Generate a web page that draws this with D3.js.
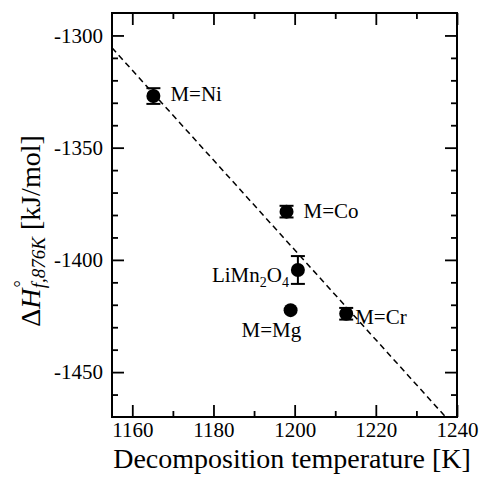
<!DOCTYPE html>
<html>
<head>
<meta charset="utf-8">
<script src="https://cdn.jsdelivr.net/npm/d3@7"></script>
<style>
  body { margin: 0; background: #fff; }
  svg { display: block; }
  svg text { font-family: "Liberation Serif", "Times New Roman", Times, "DejaVu Serif", serif !important; fill: #000; }
</style>
</head>
<body>
<div id="chart"></div>
<script>
// datos
const compounds = ["M=Ni", "M=Co", "LiMn2O4", "M=Mg", "M=Cr"];
const decompTemp = [1165.2, 1198, 1200.8, 1199, 1212.7];
const deltaH = [-1327, -1378.5, -1404.5, -1422.4, -1424];
const errH = [3.5, 2.6, 6.2, 0, 2.6];
const fitLine = [[1155, -1305.5], [1237.2, -1470]];
const xTicks = [1160, 1180, 1200, 1220, 1240];
const xMinor = [1170, 1190, 1210, 1230];
const yTicks = [-1300, -1350, -1400, -1450];
const yMinor = [-1310, -1320, -1330, -1340, -1360, -1370, -1380, -1390,
  -1410, -1420, -1430, -1440, -1460];

const width = 479;
const height = 486;
const margin = {top: 13, right: 22, bottom: 69, left: 112};
const w = width - margin.left - margin.right;
const h = height - margin.top - margin.bottom;
const serif = '"Liberation Serif", "Times New Roman", Times, serif';

let svg = d3.select("#chart").append("svg")
  .attr("width", width)
  .attr("height", height)
  .attr("font-family", serif);

let g = svg.append("g")
  .attr("transform", `translate(${margin.left}, ${margin.top})`);

let xScale = d3.scaleLinear().domain([1155, 1240]).range([0, w]);
let yScale = d3.scaleLinear().domain([-1470, -1290]).range([h, 0]);

// ejes con ticks hacia adentro, en los cuatro lados
function styleAxis(sel) {
  sel.attr("font-family", serif).attr("font-size", 21);
  sel.select(".domain").remove();
  sel.selectAll(".tick line").attr("stroke", "#000").attr("stroke-width", 1.8);
  sel.selectAll(".tick text").attr("font-family", serif).attr("font-size", 21);
}

g.append("g").attr("transform", `translate(0,${h})`)
  .call(d3.axisBottom(xScale).tickValues(xTicks).tickSize(-12).tickPadding(5).tickFormat(d3.format("d")))
  .call(styleAxis);
g.append("g").attr("transform", `translate(0,${h})`)
  .call(d3.axisBottom(xScale).tickValues(xMinor).tickSize(-6).tickFormat(""))
  .call(styleAxis);
g.append("g")
  .call(d3.axisTop(xScale).tickValues(xTicks).tickSize(-12).tickFormat(""))
  .call(styleAxis);
g.append("g")
  .call(d3.axisTop(xScale).tickValues(xMinor).tickSize(-6).tickFormat(""))
  .call(styleAxis);

g.append("g")
  .call(d3.axisLeft(yScale).tickValues(yTicks).tickSize(-12).tickPadding(9).tickFormat(d => "-" + Math.abs(d)))
  .call(styleAxis);
g.append("g")
  .call(d3.axisLeft(yScale).tickValues(yMinor).tickSize(-6).tickFormat(""))
  .call(styleAxis);
g.append("g").attr("transform", `translate(${w},0)`)
  .call(d3.axisRight(yScale).tickValues(yTicks).tickSize(-12).tickFormat(""))
  .call(styleAxis);
g.append("g").attr("transform", `translate(${w},0)`)
  .call(d3.axisRight(yScale).tickValues(yMinor).tickSize(-6).tickFormat(""))
  .call(styleAxis);

// marco
g.append("rect")
  .attr("width", w)
  .attr("height", h)
  .attr("fill", "none")
  .attr("stroke", "#000")
  .attr("stroke-width", 2);

// recta de ajuste
g.append("line")
  .attr("x1", xScale(fitLine[0][0]))
  .attr("y1", yScale(fitLine[0][1]))
  .attr("x2", xScale(fitLine[1][0]))
  .attr("y2", yScale(fitLine[1][1]))
  .attr("stroke", "#000")
  .attr("stroke-width", 1.5)
  .style("stroke-dasharray", "6,4");

// barras de error y puntos
for (let i in compounds) {
  let cx = xScale(decompTemp[i]);
  let yTop = yScale(deltaH[i] + errH[i]);
  let yBot = yScale(deltaH[i] - errH[i]);
  if (errH[i] > 0) {
    g.append("line").attr("x1", cx).attr("x2", cx).attr("y1", yTop).attr("y2", yBot)
      .attr("stroke", "#000").attr("stroke-width", 2);
    [yTop, yBot].forEach(yy => {
      g.append("line").attr("x1", cx - 7).attr("x2", cx + 7).attr("y1", yy).attr("y2", yy)
        .attr("stroke", "#000").attr("stroke-width", 2);
    });
  }
  g.append("circle")
    .attr("cx", cx)
    .attr("cy", yScale(deltaH[i]))
    .attr("r", 7)
    .attr("fill", "#000");
}

// etiquetas de los puntos (desplazamientos en px)
const labelPos = {
  "M=Ni": {dx: 17, dy: 5, anchor: "start"},
  "M=Co": {dx: 17, dy: 6.5, anchor: "start"},
  "LiMn2O4": {dx: -9, dy: 12, anchor: "end"},
  "M=Mg": {dx: -49, dy: 27, anchor: "start"},
  "M=Cr": {dx: 9, dy: 10, anchor: "start"}
};

for (let i in compounds) {
  let p = labelPos[compounds[i]];
  let t = g.append("text")
    .attr("x", xScale(decompTemp[i]) + p.dx)
    .attr("y", yScale(deltaH[i]) + p.dy)
    .attr("text-anchor", p.anchor)
    .attr("font-size", 21);
  if (compounds[i] === "LiMn2O4") {
    t.append("tspan").text("LiMn");
    t.append("tspan").text("2").attr("font-size", 14).attr("dy", 5);
    t.append("tspan").text("O").attr("dy", -5);
    t.append("tspan").text("4").attr("font-size", 14).attr("dy", 5);
  } else {
    t.text(compounds[i]);
  }
}

// titulos de ejes
svg.append("text")
  .attr("x", 292)
  .attr("y", 468)
  .attr("text-anchor", "middle")
  .attr("font-size", 28)
  .text("Decomposition temperature [K]");

let yl = svg.append("text")
  .attr("transform", "translate(40, 231) rotate(-90)")
  .attr("text-anchor", "middle")
  .attr("font-size", 28);
yl.append("tspan").text("\u0394");
yl.append("tspan").text("H").attr("font-style", "italic");
yl.append("tspan").text("\u00b0").attr("font-size", 18).attr("dx", 1).attr("dy", -13);
yl.append("tspan").text("f,876K").attr("font-style", "italic").attr("font-size", 19)
  .attr("dx", -8).attr("dy", 18);
yl.append("tspan").text(" [kJ/mol]").attr("dy", -5);
</script>
</body>
</html>
